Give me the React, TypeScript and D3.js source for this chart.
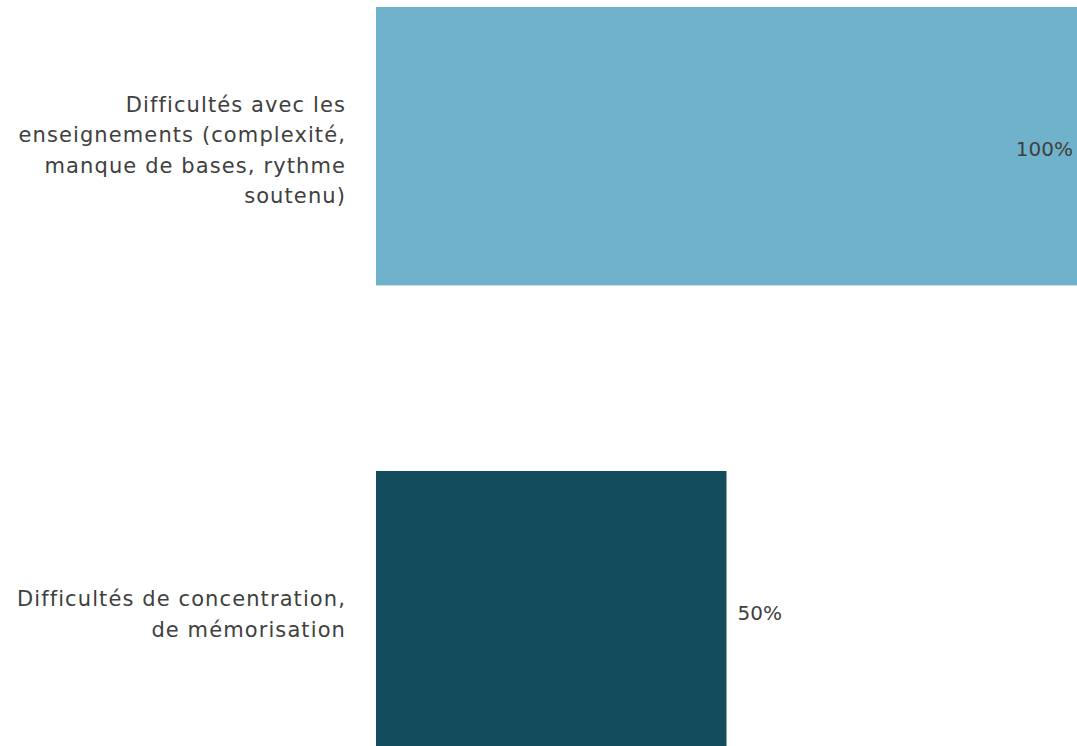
import React from "react";
import * as d3 from "d3";

const categories = [
  "Difficultés avec les enseignements (complexité, manque de bases, rythme soutenu)",
  "Difficultés de concentration, de mémorisation",
];
const categoryLines = [
  ["Difficultés avec les", "enseignements (complexité,", "manque de bases, rythme", "soutenu)"],
  ["Difficultés de concentration,", "de mémorisation"],
];
const values = [1.0, 0.5];
const colors = ["#70b2cb", "#134c5c"];

const W = 1077;
const H = 746;
const FONT = "'DejaVu Sans', sans-serif";

export default function App() {
  const x = d3.scaleLinear().domain([0, 1]).range([376, 1077]);
  const y = d3
    .scaleBand<string>()
    .domain(categories)
    .range([7, 749.4])
    .paddingInner(0.4)
    .paddingOuter(0);
  const fmt = d3.format(".0%");
  const lineH = 30.5;

  return (
    <svg
      width={W}
      height={H}
      style={{ position: "absolute", left: 0, top: 0, background: "#fff" }}
      fontFamily={FONT}
    >
      {categories.map((c, i) => {
        const y0 = y(c)!;
        const bw = y.bandwidth();
        const cy = y0 + bw / 2;
        const lines = categoryLines[i];
        const end = x(values[i]);
        const label = fmt(values[i]);
        const outside = end + 11 + 45 < W;
        return (
          <g key={c}>
            <rect x={x(0)} y={y0} width={end - x(0)} height={bw} fill={colors[i]} />
            {lines.map((ln, j) => (
              <text
                key={j}
                x={346}
                y={cy + 4 + (j - (lines.length - 1) / 2) * lineH}
                dy="0.35em"
                textAnchor="end"
                fontSize={21}
                letterSpacing={1.1}
                fill="#404040"
              >
                {ln}
              </text>
            ))}
            <text
              x={outside ? end + 11 : W - 4}
              y={cy + 3}
              dy="0.35em"
              textAnchor={outside ? "start" : "end"}
              fontSize={20}
              fill="#404040"
            >
              {label}
            </text>
          </g>
        );
      })}
    </svg>
  );
}
